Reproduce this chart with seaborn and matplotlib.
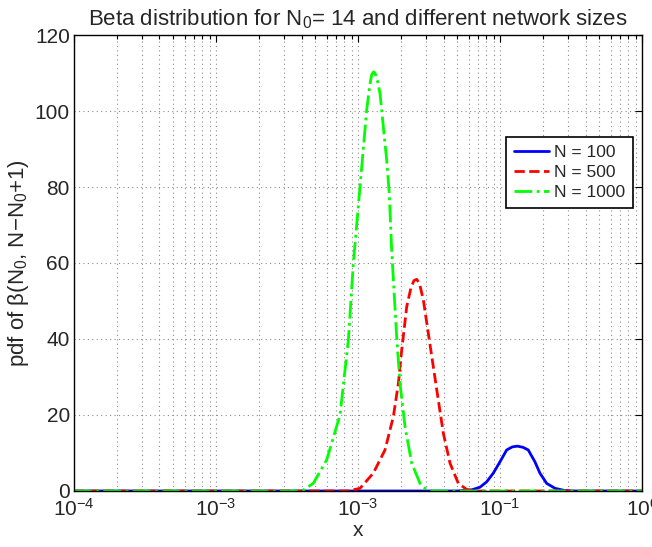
import numpy as np
import pandas as pd
import matplotlib
matplotlib.use("Agg")
import matplotlib.pyplot as plt
import seaborn as sns

# Points (x on log scale, pdf value)
x_n100 = [1e-4, 0.050, 0.0632, 0.0723, 0.0805, 0.0897, 0.100, 0.1114, 0.122,
          0.1324, 0.145, 0.158, 0.176, 0.191, 0.213, 0.244, 0.279, 0.32, 1.0]
y_n100 = [0, 0, 0.3, 1.0, 2.4, 4.7, 7.7, 10.8, 11.6,
          11.8, 11.5, 10.8, 7.7, 4.7, 2.0, 0.7, 0.2, 0, 0]

x_n500 = [1e-4, 0.0085, 0.01033, 0.01282, 0.01549, 0.01774, 0.01924, 0.02031,
          0.02203, 0.0236, 0.0248, 0.02589, 0.0271, 0.02884, 0.03127, 0.03390,
          0.03677, 0.03988, 0.04446, 0.05087, 0.05825, 0.068, 1.0]
y_n500 = [0, 0, 0.7, 4.7, 10.8, 19.6, 28.3, 37.1,
          48.5, 53.5, 55.4, 55.7, 54.6, 50.3, 41.5, 32.7,
          23.9, 15.2, 7.3, 2.0, 0.4, 0, 0]

x_n1000 = [1e-4, 0.0035, 0.0041, 0.00484, 0.00602, 0.00747, 0.00855, 0.00927,
           0.01033, 0.01151, 0.01216, 0.01250, 0.01285, 0.01320, 0.01370,
           0.01429, 0.01507, 0.01592, 0.01660, 0.01726, 0.01871, 0.01976,
           0.02143, 0.02389, 0.02733, 0.02966, 0.034, 1.0]
y_n1000 = [0, 0, 0.2, 2.0, 8.2, 20.0, 39.7, 59.9,
           80.1, 100.3, 107.3, 109.6, 110.3, 109.9, 108.0,
           104.6, 95.9, 87.1, 78.3, 63.4, 40.6, 28.3,
           16.9, 7.3, 2.0, 0.7, 0, 0]

labels = ["N = 100", "N = 500", "N = 1000"]
xtick_labels = ["$10^{-4}$", "$10^{-3}$", "$10^{-3}$", "$10^{-1}$", "$10^{0}$"]

sns.set_theme(style="white")
plt.rcParams["font.family"] = ["Liberation Sans", "DejaVu Sans"]
plt.rcParams["mathtext.default"] = "regular"

fig = plt.figure(figsize=(6.52, 5.47), dpi=100)
ax = fig.add_axes([0.1135, 0.1024, 0.8712, 0.8336])

series = [(x_n100, y_n100, "#0000ff", "-"),
          (x_n500, y_n500, "#ff0000", "--"),
          (x_n1000, y_n1000, "#00ff00", "-.")]
for (xs, ys, c, ls), lab in zip(series, labels):
    df = pd.DataFrame({"x": xs, "y": ys})
    sns.lineplot(data=df, x="x", y="y", ax=ax, color=c, linestyle=ls,
                 linewidth=2, label=lab, sort=False)

ax.set_xscale("log")
ax.set_xlim(1e-4, 1)
ax.set_ylim(0, 120)
ax.set_yticks([0, 20, 40, 60, 80, 100, 120])
ax.set_xticks([1e-4, 1e-3, 1e-2, 1e-1, 1])
ax.set_xticklabels(xtick_labels)

grid_kw = dict(linestyle=(0, (1, 3)), color="0.55", linewidth=0.8)
ax.grid(True, which="major", axis="both", **grid_kw)
ax.grid(True, which="minor", axis="x", **grid_kw)
ax.tick_params(which="both", direction="in", top=True, right=True, labelsize=15,
               color="black", width=0.8)
ax.tick_params(which="major", length=5, pad=3)
ax.tick_params(axis="x", which="major", pad=5)
ax.tick_params(which="minor", length=3)
for sp in ax.spines.values():
    sp.set_color("black")
    sp.set_linewidth(1.0)

ax.set_title("Beta distribution for N$_0$= 14 and different network sizes", fontsize=16, pad=7)
ax.set_xlabel("x", fontsize=15, labelpad=1)
ax.set_ylabel("pdf of β(N$_0$, N−N$_0$+1)", fontsize=16, labelpad=3)

leg = ax.legend(loc="upper right", bbox_to_anchor=(0.984, 0.777), borderaxespad=0,
                fontsize=12.5, frameon=True, fancybox=False, edgecolor="black",
                framealpha=1, handlelength=2.0, handletextpad=0.3, borderpad=0.45,
                labelspacing=0.3)
leg.get_frame().set_linewidth(1.2)

fig.savefig("out.png", dpi=100)
